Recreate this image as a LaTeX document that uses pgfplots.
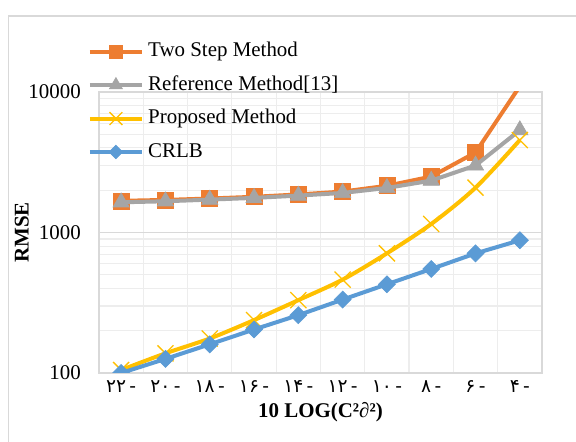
\documentclass[border=0pt]{standalone}
\usepackage{fontspec}
\setmainfont{Liberation Serif}
\newfontfamily\digitfont{DejaVu Sans}
\TeXXeTstate=1
\usepackage{pgfplots}
\pgfplotsset{compat=1.18}
\definecolor{cOrange}{HTML}{ED7D31}
\definecolor{cGray}{HTML}{A5A5A5}
\definecolor{cYellow}{HTML}{FFC000}
\definecolor{cBlue}{HTML}{5B9BD5}
\definecolor{cGrid}{HTML}{D9D9D9}
\definecolor{cMinor}{HTML}{EDEDED}
\newcommand{\rl}[1]{\beginR -\kern2.5pt #1\endR}
\begin{document}
\begin{tikzpicture}[font=\fontsize{15.7}{18}\selectfont]
\useasboundingbox (0,0) rectangle (432pt,331.5pt);
\fill[white] (0,0) rectangle (432pt,331.5pt);
\draw[cGrid, line width=0.9pt] (6.4pt,-10pt) rectangle (450pt,319.5pt);
\begin{axis}[
  at={(74.25pt,51.75pt)}, anchor=south west,
  scale only axis, width=332.25pt, height=210.75pt,
  ymode=log, ymin=100, ymax=10000,
  xmin=-0.5, xmax=9.5,
  xtick={0,1,2,3,4,5,6,7,8,9},
  xticklabels={{\rl{۲۲}},{\rl{۲۰}},{\rl{۱۸}},{\rl{۱۶}},{\rl{۱۴}},{\rl{۱۲}},{\rl{۱۰}},{\rl{۸}},{\rl{۶}},{\rl{۴}}},
  xticklabel style={font=\digitfont\fontsize{14}{15}\selectfont, anchor=center, yshift=-10pt},
  minor xtick={-0.5,0.5,...,9.5},
  xminorgrids,
  ytick={100,1000,10000}, yticklabels={100,1000,10000},
  minor ytick={200,300,400,500,600,700,800,900,2000,3000,4000,5000,6000,7000,8000,9000},
  ymajorgrids, yminorgrids,
  yticklabel style={inner sep=0pt, anchor=east, xshift=-13.5pt},
  major tick length=0pt, minor tick length=0pt,
  axis line style={draw=cGrid, line width=0.9pt},
  major grid style={draw=cGrid, line width=0.9pt},
  minor grid style={draw=cMinor, line width=0.9pt},
  clip marker paths=true,
  xlabel={\bfseries 10 LOG(C²∂²)},
  xlabel style={at={(axis description cs:0.5,-0.14)}, anchor=center},
  ylabel={\bfseries RMSE},
  ylabel style={at={(axis description cs:-0.174,0.5)}, anchor=center},
  legend cell align=left,
  legend style={at={(axis description cs:-0.0250,1.177)}, anchor=north west,
    draw=none, fill=none, inner sep=0pt, outer sep=0pt, row sep=11.1pt,
    nodes={inner sep=0pt, text height=11pt, text depth=3pt}},
  legend image code/.code={\draw[mark repeat=2,mark phase=2,#1,every mark/.append style={scale=0.8}] plot coordinates {(0pt,0pt) (19.5pt,0pt) (39pt,0pt)}; \path (42.2pt,0pt);},
]
\addplot[cOrange, line width=3pt, mark=square*, mark size=6pt, mark options={solid, line width=0.5pt}] coordinates {
(0,1680) (1,1705) (2,1745) (3,1795) (4,1865) (5,1955) (6,2150) (7,2500) (8,3710) (9,11000)};
\addlegendentry{Two Step Method}
\addplot[cGray, line width=3pt, mark=triangle*, mark size=7pt, mark options={solid, line width=0.5pt}] coordinates {
(0,1640) (1,1668) (2,1714) (3,1763) (4,1830) (5,1912) (6,2075) (7,2340) (8,3000) (9,5350)};
\addlegendentry{Reference Method[13]}
\addplot[cYellow, line width=3pt, smooth, mark=x, mark size=8.5pt, mark options={solid, line width=1pt}] coordinates {
(0,105) (1,138) (2,176) (3,238) (4,330) (5,462) (6,711) (7,1150) (8,2085) (9,4550)};
\addlegendentry{Proposed Method}
\addplot[cBlue, line width=3pt, mark=square*, mark size=4.5pt, mark options={solid, rotate=45, line width=0.5pt}] coordinates {
(0,100) (1,126) (2,160) (3,204) (4,258) (5,333) (6,428) (7,550) (8,710) (9,880)};
\addlegendentry{CRLB}
\end{axis}
\end{tikzpicture}
\end{document}
